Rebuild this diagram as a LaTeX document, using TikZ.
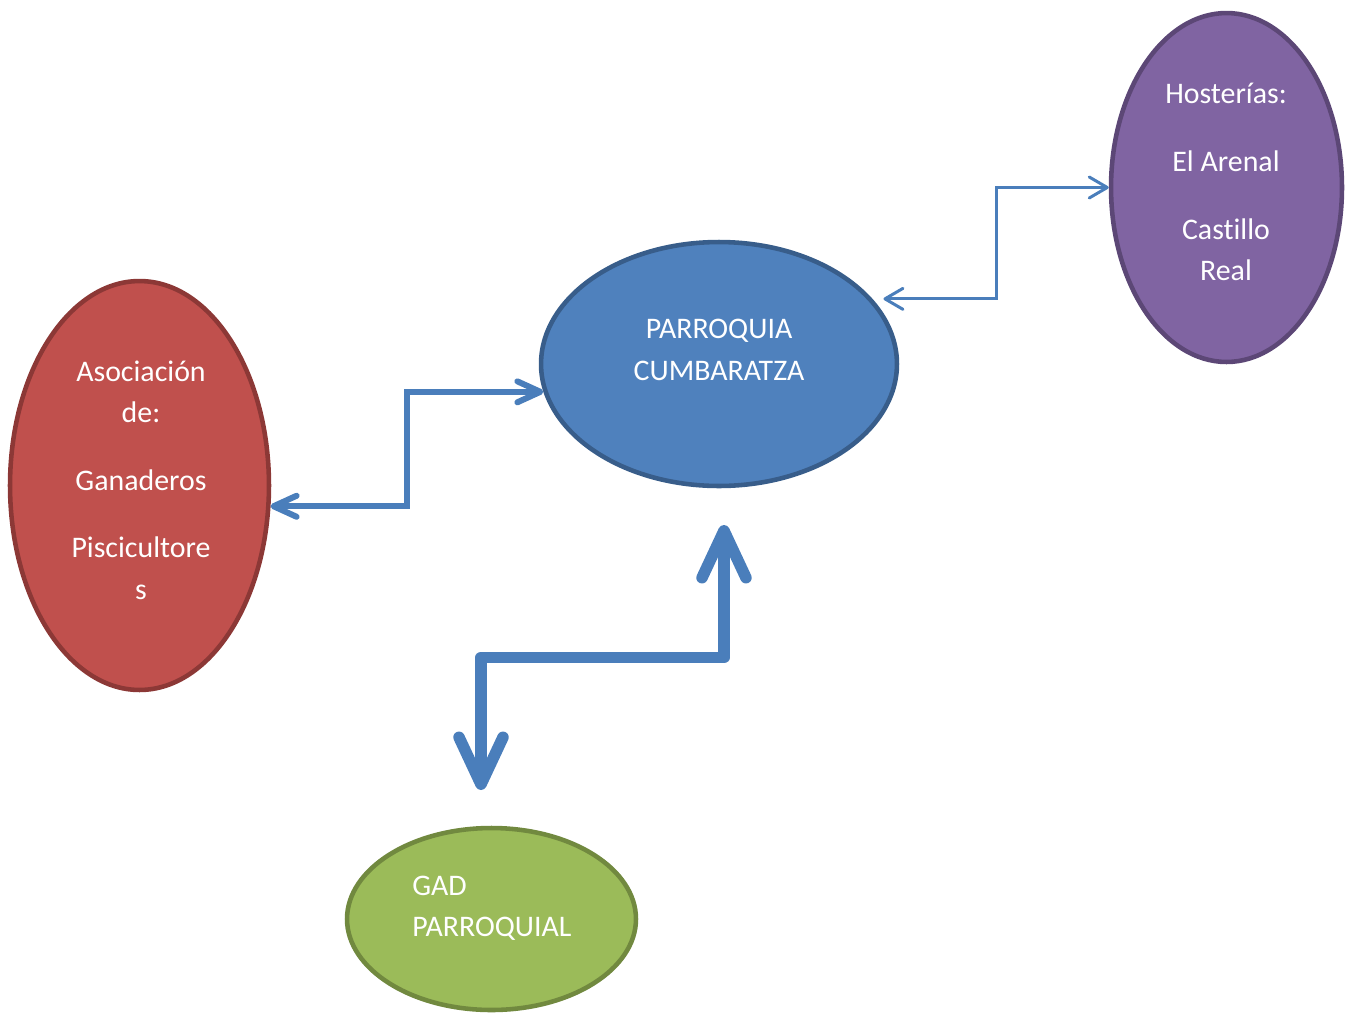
\documentclass[tikz,border=0pt]{standalone}
\usepackage{fontspec}
\setmainfont{Carlito}[Ligatures=NoCommon]
\usetikzlibrary{shapes.geometric,arrows.meta,calc}

\definecolor{azul}{HTML}{4F81BD}
\definecolor{azulb}{HTML}{385D8A}
\definecolor{rojo}{HTML}{C0504D}
\definecolor{rojob}{HTML}{8C3836}
\definecolor{morado}{HTML}{8064A2}
\definecolor{moradob}{HTML}{5C4776}
\definecolor{verde}{HTML}{9BBB59}
\definecolor{verdeb}{HTML}{71893F}
\definecolor{flecha}{HTML}{4A7EBB}

\begin{document}
\begin{tikzpicture}[x=0.02cm,y=-0.02cm,
  blob/.style={ellipse,line width=2.6pt,inner sep=0pt},
  txt/.style={text=white,font=\fontsize{17}{23.5}\selectfont,align=center,inner sep=0pt},
  link/.style={draw=flecha}]
\useasboundingbox (0,0) rectangle (1346,1015);

% ellipses
\node[blob,fill=azul,draw=azulb,minimum width=7.12cm,minimum height=4.88cm] (parroquia) at (719,364) {};
\node[blob,fill=rojo,draw=rojob,minimum width=5.18cm,minimum height=8.18cm] (asoc) at (139.5,485.5) {};
\node[blob,fill=morado,draw=moradob,minimum width=4.62cm,minimum height=6.98cm] (hoster) at (1226.5,187.5) {};
\node[blob,fill=verde,draw=verdeb,minimum width=5.78cm,minimum height=3.64cm] (gad) at (491.5,919) {};

% texts
\node[txt] (parroquiatxt) at (719,350) {PARROQUIA\\CUMBARATZA};
\node[txt] (asoctxt) at (141,480) {Asociación\\de:\\[15pt]Ganaderos\\[15pt]Piscicultore\\s};
\node[txt] (hostertxt) at (1226,182) {Hosterías:\\[15pt]El Arenal\\[15pt]Castillo\\Real};
\node[txt,align=left,anchor=west] (gadtxt) at (412,908) {GAD\\PARROQUIAL};

% connectors
\draw[link,line width=0.12cm,{Straight Barb[length=0.46cm,width=0.42cm,round]}-{Straight Barb[length=0.46cm,width=0.42cm,round]}]
  (asoc.-9) -| ($(asoc.-9)!0.5!(parroquia.189)$) |- (parroquia.189);
\coordinate (parrcorner) at ($(parroquia.23)+(11,0)$);
\draw[link,line width=0.06cm,{Straight Barb[length=0.36cm,width=0.42cm,round]}-{Straight Barb[length=0.36cm,width=0.42cm,round]}]
  (parrcorner) -| ($(parrcorner)!0.5!(hoster.west)$) |- (hoster.west);

\coordinate (gadtip) at (481,790);
\coordinate (parrtip) at (724,525);
\draw[link,line width=0.23cm,line join=round,{Straight Barb[length=0.94cm,width=0.88cm,round]}-{Straight Barb[length=0.94cm,width=0.88cm,round]}]
  (gadtip) |- ($(gadtip)!0.5!(parrtip)$) -| (parrtip);
\end{tikzpicture}
\end{document}
